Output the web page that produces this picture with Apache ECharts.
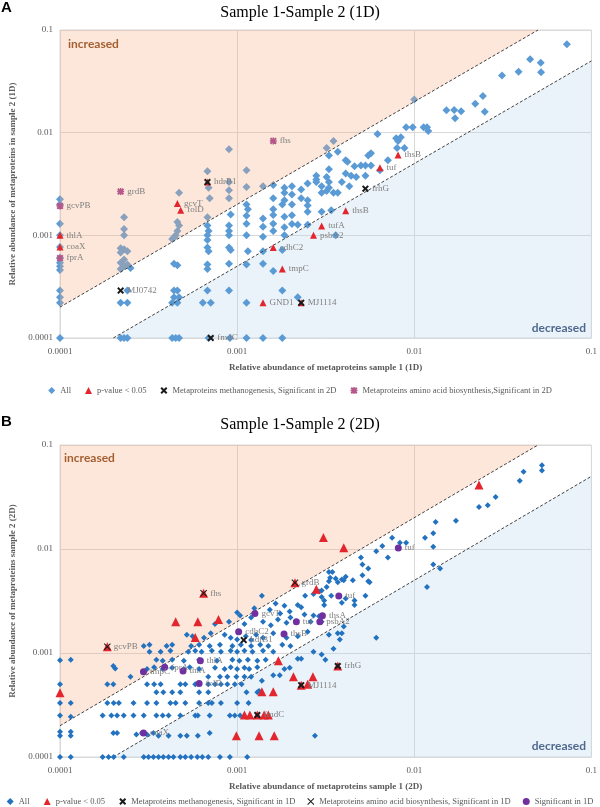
<!DOCTYPE html>
<html>
<head>
<meta charset="utf-8">
<script src="https://cdn.jsdelivr.net/npm/echarts@6/dist/echarts.min.js"></script>
<style>
  html, body { margin: 0; padding: 0; background: #fff; }
  #main { width: 600px; height: 807px; }
</style>
</head>
<body>
<div id="main"></div>
<script>
// tick labels of both log axes (decades)
const tickLabels = ['0.0001', '0.001', '0.01', '0.1'];
const titles = ['Sample 1-Sample 2 (1D)', 'Sample 1-Sample 2 (2D)'];
const xNames = ['Relative abundance of metaproteins sample 1 (1D)', 'Relative abundance of metaproteins sample 1 (2D)'];
const yNames = ['Relative abundance of metaproteins in sample 2 (1D)', 'Relative abundance of metaproteins sample 2 (2D)'];
// fold-change borders of the white band
const upperRatio = 2;
const lowerRatio = 0.5;

// ---- panel A (1D) ----
const aAll = [
  [1e-4,2.25e-3],[1e-4,2.0e-3],[1e-4,1.3e-3],[1e-4,1.0e-3],[1e-4,7.7e-4],[1e-4,6.0e-4],[1e-4,5.4e-4],[1e-4,5.0e-4],[1e-4,4.6e-4],[1e-4,2.9e-4],[1e-4,2.5e-4],[1e-4,2.2e-4],[1e-4,1e-4],
  [2.3e-4,1.5e-3],[2.3e-4,1.15e-3],[2.3e-4,1.0e-3],[2.2e-4,7.5e-4],[2.3e-4,7.3e-4],[2.4e-4,7.0e-4],[2.2e-4,6.8e-4],[2.3e-4,5.8e-4],[2.2e-4,5.4e-4],[2.4e-4,5.2e-4],[2.3e-4,5.0e-4],[2.2e-4,4.7e-4],[2.5e-4,4.8e-4],[2.4e-4,2.9e-4],[2.2e-4,2.2e-4],[2.4e-4,2.2e-4],[2.2e-4,1e-4],[2.3e-4,1e-4],[2.4e-4,1e-4],
  [4.7e-4,2.6e-3],[4.6e-4,1.35e-3],[4.7e-4,1.25e-3],[4.6e-4,1.1e-3],[4.5e-4,1.0e-3],[4.4e-4,9.5e-4],[4.3e-4,9.2e-4],[4.4e-4,5.3e-4],[4.6e-4,5.1e-4],[4.4e-4,2.9e-4],[4.6e-4,2.9e-4],[4.4e-4,2.5e-4],[4.7e-4,2.5e-4],[4.3e-4,2.2e-4],[4.6e-4,2.2e-4],[4.3e-4,1e-4],[4.5e-4,1e-4],[4.7e-4,1e-4],
  [6.8e-4,4.2e-3],[6.9e-4,2.9e-3],[7.0e-4,2.3e-3],[6.8e-4,1.5e-3],[6.8e-4,1.25e-3],[6.9e-4,1.1e-3],[6.8e-4,1.0e-3],[6.8e-4,9.0e-4],[6.8e-4,7.6e-4],[6.9e-4,7.0e-4],[6.8e-4,5.2e-4],[6.8e-4,4.7e-4],[6.8e-4,2.9e-4],[6.4e-4,2.2e-4],[7.1e-4,2.2e-4],[6.9e-4,1e-4],
  [9.0e-4,6.9e-3],[9.0e-4,3.3e-3],[9.0e-4,2.75e-3],[9.0e-4,2.3e-3],[9.2e-4,1.6e-3],[9.0e-4,1.25e-3],[9.0e-4,1.1e-3],[9.0e-4,1.0e-3],[9.0e-4,7.6e-4],[9.2e-4,7.2e-4],[9.0e-4,5.3e-4],[9.0e-4,2.9e-4],[9.1e-4,1e-4],
  [1.13e-3,4.3e-3],[1.13e-3,2.95e-3],[1.13e-3,2.0e-3],[1.15e-3,1.8e-3],[1.13e-3,1.55e-3],[1.13e-3,1.3e-3],[1.13e-3,1.0e-3],[1.15e-3,7.0e-4],[1.13e-3,5.2e-4],[1.13e-3,2.2e-4],[1.13e-3,1e-4],
  [1.4e-3,3.0e-3],[1.4e-3,1.46e-3],[1.4e-3,1.21e-3],[1.4e-3,9.7e-4],[1.4e-3,7.0e-4],[1.4e-3,5.3e-4],[1.4e-3,1e-4],
  [1.6e-3,3.1e-3],[1.6e-3,2.3e-3],[1.6e-3,1.8e-3],[1.6e-3,1.58e-3],[1.6e-3,1.3e-3],[1.6e-3,1.1e-3],[1.6e-3,4.5e-4],
  [1.85e-3,2.9e-3],[1.85e-3,2.6e-3],[1.85e-3,2.2e-3],[1.8e-3,2.0e-3],[1.85e-3,1.52e-3],[1.85e-3,1.2e-3],[1.85e-3,1.0e-3],[1.8e-3,7.2e-4],[1.8e-3,2.9e-4],[1.8e-3,1e-4],
  [2.04e-3,3.0e-3],[2.04e-3,2.5e-3],[2.04e-3,2.0e-3],[2.04e-3,1.57e-3],[2.04e-3,1.29e-3],
  [2.3e-3,2.8e-3],[2.3e-3,2.3e-3],[2.2e-3,1.27e-3],[2.2e-3,2.5e-4],
  [2.5e-3,3.2e-3],[2.5e-3,2.2e-3],[2.5e-3,1.95e-3],[2.5e-3,1.7e-3],[2.5e-3,1.27e-3],
  [2.8e-3,3.8e-3],[2.8e-3,3.5e-3],[2.8e-3,3.3e-3],[3.0e-3,3.0e-3],[3.0e-3,2.6e-3],[3.0e-3,1.7e-3],
  [3.2e-3,3.7e-3],[3.3e-3,3.3e-3],[3.3e-3,2.9e-3],[3.2e-3,2.7e-3],[3.3e-3,4.4e-3],[3.5e-3,2.6e-3],[3.4e-3,1.76e-3],[3.6e-3,1.0e-3],
  [3.7e-3,2.6e-3],[3.9e-3,3.3e-3],[4.1e-3,4.0e-3],[4.1e-3,5.4e-3],[4.2e-3,5.2e-3],[4.3e-3,3.0e-3],[4.4e-3,3.8e-3],[4.6e-3,4.7e-3],[4.7e-3,3.7e-3],
  [5.0e-3,4.8e-3],[5.3e-3,4.8e-3],[5.3e-3,3.8e-3],[5.7e-3,4.8e-3],[5.5e-3,6.0e-3],[5.7e-3,6.3e-3],[6.2e-3,9.7e-3],[6.4e-3,4.3e-3],[7.1e-3,5.4e-3],
  [7.9e-3,8.8e-3],[8.1e-3,8.3e-3],[8.4e-3,9.0e-3],[8.0e-3,7.1e-3],[8.8e-3,7.1e-3],
  [9.0e-3,0.0113],[9.8e-3,0.0113],[0.0113,0.0113],[0.0118,0.0113],[0.012,0.0104],
  [0.0152,0.0165],[0.0168,0.0166],[0.0184,0.0162],[0.017,0.0138],[0.0221,0.0191],[0.0244,0.0227],[0.025,0.016],
  [0.0313,0.036],[0.0388,0.0393],[0.0451,0.0518],[0.0518,0.048],[0.052,0.0387],[0.0727,0.0725],
  [0.01,0.021],[3.5e-3,8.3e-3],[3.2e-3,7.1e-3],[3.7e-3,6.5e-3],[3.3e-3,6.0e-3]
];
const aPval = [
  [4.6e-4,2.04e-3,'gcvT'],[4.8e-4,1.76e-3,'folD'],[1e-4,1.0e-3,'thlA'],[1e-4,7.7e-4,'coaX'],
  [6.8e-4,3.3e-3,''],[1.6e-3,7.6e-4,'cdhC2'],[1.8e-3,4.7e-4,'tmpC'],[1.4e-3,2.2e-4,'GND1'],
  [2.3e-3,2.2e-4,''],[3.0e-3,1.23e-3,'tufA'],[2.7e-3,1.0e-3,'psbA2'],[4.1e-3,1.74e-3,'thsB'],
  [6.4e-3,4.55e-3,'tuf'],[8.1e-3,6.05e-3,'thsB']
];
const aMethano = [
  [6.8e-4,3.3e-3,'hdrB1'],[2.2e-4,2.9e-4,'MJ0742'],[7.1e-4,1e-4,'fmdC'],[5.3e-3,2.85e-3,'frhG'],[2.3e-3,2.2e-4,'MJ1114']
];
const aAmino = [
  [2.2e-4,2.67e-3,'grdB'],[1e-4,1.93e-3,'gcvPB'],[1.6e-3,8.3e-3,'fhs'],[1e-4,6.0e-4,'fprA']
];

// ---- panel B (2D) ----
const bAll = [
  [1e-4,1e-4],[1.15e-4,1e-4],[1.74e-4,1e-4],[1.88e-4,1e-4],[2.01e-4,1e-4],[2.29e-4,1e-4],[2.97e-4,1e-4],[3.16e-4,1e-4],[3.37e-4,1e-4],[3.6e-4,1e-4],[3.83e-4,1e-4],[4.1e-4,1e-4],[4.37e-4,1e-4],[4.78e-4,1e-4],[5.1e-4,1e-4],[5.5e-4,1e-4],[5.96e-4,1e-4],[6.36e-4,1e-4],[6.87e-4,1e-4],[8.0e-4,1e-4],[9.1e-4,1e-4],[1.14e-3,1e-4],
  [1e-4,1.6e-4],[1e-4,1.75e-4],[1.15e-4,1.6e-4],[1.15e-4,1.75e-4],[2.0e-4,1.7e-4],[2.1e-4,1.7e-4],[2.7e-4,1.65e-4],[2.9e-4,1.7e-4],[3.1e-4,1.65e-4],[3.37e-4,1.7e-4],[3.6e-4,1.6e-4],[4.1e-4,1.6e-4],[4.78e-4,1.6e-4],[5.2e-4,1.6e-4],[6.0e-4,1.6e-4],[7.0e-4,1.7e-4],[2.75e-3,1.6e-4],
  [1e-4,2.5e-4],[1.15e-4,2.44e-4],[1.74e-4,2.5e-4],[1.95e-4,2.5e-4],[2.1e-4,2.5e-4],[2.29e-4,2.5e-4],[2.6e-4,2.5e-4],[2.97e-4,2.5e-4],[3.5e-4,2.5e-4],[3.8e-4,2.5e-4],[4.1e-4,2.5e-4],[4.78e-4,2.5e-4],[5.8e-4,2.5e-4],[6.0e-4,2.5e-4],[7.0e-4,2.5e-4],[9.1e-4,2.5e-4],[9.7e-4,2.5e-4],[1.04e-3,2.5e-4],
  [1e-4,3.3e-4],[1.15e-4,3.3e-4],[1.85e-4,3.3e-4],[2.01e-4,3.3e-4],[2.15e-4,3.3e-4],[2.6e-4,3.3e-4],[3.1e-4,3.3e-4],[3.5e-4,3.3e-4],[4.2e-4,3.3e-4],[4.5e-4,3.3e-4],[5.1e-4,3.3e-4],[6.1e-4,3.3e-4],[6.87e-4,3.3e-4],[7.2e-4,3.3e-4],[8.1e-4,3.3e-4],[1.0e-3,3.3e-4],[1.16e-3,3.3e-4],
  [3.5e-4,4.2e-4],[3.83e-4,4.2e-4],[4.3e-4,4.2e-4],[4.78e-4,4.2e-4],[6.1e-4,4.2e-4],[6.87e-4,4.2e-4],[1.13e-3,4.2e-4],[1.3e-3,4.2e-4],[1.33e-3,4.3e-4],
  [1e-4,5e-4],[1.85e-4,5e-4],[2.0e-4,5e-4],[3.1e-4,5e-4],[3.4e-4,5e-4],[3.7e-4,5e-4],[4.78e-4,5e-4],[5.1e-4,5e-4],[5.8e-4,5e-4],[6.87e-4,5e-4],[7.5e-4,5e-4],[8.1e-4,5e-4],[8.8e-4,5e-4],[9.7e-4,5e-4],[1.06e-3,5e-4],[1.38e-3,5.4e-4],
  [2.5e-4,5.9e-4],[6.87e-4,5.9e-4],[8.0e-4,5.9e-4],[8.8e-4,5.9e-4],[9.9e-4,5.9e-4],[1.1e-3,5.9e-4],[1.2e-3,5.9e-4],[1.6e-3,6.1e-4],[1.74e-3,6.1e-4],
  [2.0e-4,7.5e-4],[2.05e-4,7.1e-4],[3.1e-4,7.0e-4],[3.4e-4,7.3e-4],[3.8e-4,7.0e-4],[4.3e-4,7.2e-4],[5.0e-4,7.0e-4],[5.4e-4,7.3e-4],[6.1e-4,7.0e-4],[7.5e-4,7.2e-4],[8.5e-4,7.0e-4],[9.2e-4,7.3e-4],[1.0e-3,7.0e-4],[1.1e-3,7.2e-4],[1.17e-3,7.0e-4],[1.3e-3,7.3e-4],[1.85e-3,7.0e-4],[1.98e-3,7.2e-4],
  [1e-4,8.5e-4],[1.15e-4,8.6e-4],[3.5e-4,8.6e-4],[3.8e-4,8.4e-4],[4.3e-4,8.6e-4],[5.0e-4,8.4e-4],[6.1e-4,8.6e-4],[7.7e-4,8.4e-4],[9.4e-4,8.6e-4],[1.03e-3,8.4e-4],[1.15e-3,8.6e-4],[1.3e-3,8.4e-4],[1.45e-3,8.6e-4],[2.2e-3,8.8e-4],[2.3e-3,8.8e-4],[3.15e-3,8.6e-4],
  [3.2e-4,1.03e-3],[3.7e-4,1.03e-3],[4.2e-4,1.05e-3],[5.3e-4,1.03e-3],[5.8e-4,1.05e-3],[6.3e-4,1.03e-3],[7.2e-4,1.05e-3],[8.1e-4,1.03e-3],[9.2e-4,1.05e-3],[1.0e-3,1.03e-3],[1.1e-3,1.05e-3],[1.22e-3,1.03e-3],[1.4e-3,1.05e-3],[1.6e-3,1.03e-3],[2.7e-3,1.03e-3],[3.0e-3,9.7e-4],[3.5e-3,1.1e-3],
  [2.97e-4,1.17e-3],[3.2e-4,1.2e-3],[4.0e-4,1.17e-3],[4.3e-4,1.2e-3],[5.5e-4,1.17e-3],[6.1e-4,1.2e-3],[7.0e-4,1.17e-3],[8.0e-4,1.2e-3],[9.4e-4,1.17e-3],[1.05e-3,1.2e-3],[1.2e-3,1.17e-3],[1.35e-3,1.2e-3],[1.5e-3,1.17e-3],[1.8e-3,1.2e-3],[2.0e-3,1.17e-3],
  [5.2e-4,1.5e-3],[5.6e-4,1.45e-3],[6.5e-4,1.4e-3],[7.1e-4,1.55e-3],[8.5e-4,1.5e-3],[9.2e-4,1.4e-3],[1.0e-3,1.35e-3],[1.12e-3,1.45e-3],[1.2e-3,1.33e-3],[1.28e-3,1.5e-3],[1.4e-3,1.4e-3],[1.6e-3,1.55e-3],[1.9e-3,1.4e-3],[2.2e-3,1.45e-3],[2.5e-3,1.6e-3],[3.3e-3,1.5e-3],[3.7e-3,1.55e-3],[3.9e-3,1.55e-3],[4.0e-3,1.8e-3],[3.8e-3,1.35e-3],[6.1e-3,1.4e-3],
  [7.5e-4,1.9e-3],[9.0e-4,2.0e-3],[1.1e-3,1.9e-3],[1.2e-3,2.2e-3],[1.4e-3,2.0e-3],[1.55e-3,1.85e-3],[1.7e-3,2.1e-3],[1.9e-3,1.95e-3],[2.0e-3,2.2e-3],[2.4e-3,2.35e-3],[2.6e-3,2.0e-3],[2.7e-3,2.3e-3],[2.9e-3,2.25e-3],[3.0e-3,2.0e-3],[1.04e-3,2.3e-3],
  [1.0e-3,2.45e-3],[1.25e-3,2.7e-3],[1.53e-3,2.6e-3],[1.65e-3,3.0e-3],[1.75e-3,2.4e-3],[1.85e-3,2.85e-3],[1.98e-3,2.5e-3],[2.2e-3,2.9e-3],[2.3e-3,2.75e-3],[3.1e-3,2.9e-3],[3.9e-3,3.05e-3],[4.6e-3,2.9e-3],
  [1.38e-3,3.55e-3],[2.42e-3,3.55e-3],[2.7e-3,3.7e-3],[3.0e-3,3.45e-3],[3.1e-3,3.2e-3],[3.4e-3,3.55e-3],[3.7e-3,4.8e-3],[4.1e-3,3.35e-3],[4.6e-3,3.2e-3],[5.3e-3,3.55e-3],[5.6e-3,4.8e-3],[3.2e-3,4.3e-3],[0.0118,4.3e-3],[3.3e-3,4.9e-3],[3.6e-3,5.2e-3],[4.0e-3,5.0e-3],[4.5e-3,5.0e-3],[2.9e-3,3.9e-3],[3.0e-3,4.0e-3],
  [3.3e-3,6.0e-3],[3.45e-3,6.0e-3],[3.35e-3,5.3e-3],[3.9e-3,5.1e-3],[4.1e-3,5.4e-3],[5.0e-3,8.3e-3],[5.1e-3,7.1e-3],[5.1e-3,5.6e-3],[5.5e-3,6.5e-3],[5.5e-3,4.9e-3],[6.1e-3,9.5e-3],[6.6e-3,0.0107],[7.1e-3,8.3e-3],[7.5e-3,0.0128],[8.3e-3,0.0115],[9.0e-3,0.0115],
  [0.0115,0.0128],[0.0128,0.0142],[0.0128,0.0105],[0.0128,0.0071],[0.014,0.0065],[0.0132,0.0182],[0.0172,0.0187],[0.0232,0.0254],[0.026,0.0264],[0.0288,0.0317],[0.0394,0.0452],[0.0414,0.0554],[0.0526,0.064],[0.0526,0.057]
];
const bPval = [
  [1e-4,4.15e-4],[4.5e-4,2.0e-3],[6.0e-4,2.0e-3],[7.85e-4,2.1e-3],[5.8e-4,1.41e-3],[1.71e-3,8.4e-4],[2.08e-3,5.9e-4],[2.68e-3,5.9e-4],[2.5e-3,5.0e-4],
  [1.38e-3,4.25e-4],[1.6e-3,4.25e-4],[1.1e-3,2.53e-4],[1.18e-3,2.53e-4],[1.42e-3,2.53e-4],[1.5e-3,2.53e-4],[9.9e-4,1.6e-4],[1.33e-3,1.6e-4],[1.62e-3,1.6e-4],
  [3.07e-3,0.0129],[4.0e-3,0.0103],[0.0232,0.0412],[2.8e-3,4.1e-3],
  [6.47e-4,3.75e-3],[1.85e-4,1.15e-3],[2.12e-3,4.74e-3],[3.7e-3,7.5e-4],[2.3e-3,4.9e-4],[1.3e-3,2.53e-4]
];
const bMethano = [
  [1.09e-3,1.33e-3,'hdrB1'],[3.7e-3,7.5e-4,'frhG'],[2.3e-3,4.9e-4,'MJ1114'],[1.3e-3,2.53e-4,'fmdC']
];
const bAmino = [
  [6.47e-4,3.75e-3,'fhs'],[1.85e-4,1.15e-3,'gcvPB'],[2.12e-3,4.74e-3,'grdB']
];
const bSig = [
  [1.26e-3,2.4e-3,'gcvT'],[1.02e-3,1.6e-3,'cdhC2'],[1.84e-3,1.52e-3,'thsB'],[2.16e-3,2.0e-3,'tuf'],[3.03e-3,2.28e-3,'thsA'],
  [2.93e-3,2.0e-3,'psbA2'],[3.75e-3,3.53e-3,'tuf'],[8.13e-3,0.0102,'tuf'],[2.96e-4,6.6e-4,'tmpC'],[3.9e-4,7.3e-4,'fprA'],
  [4.95e-4,6.7e-4,'thlA'],[6.2e-4,8.4e-4,'thlA'],[6.1e-4,5.1e-4,'folD'],[2.96e-4,1.7e-4,'coaX']
];

const xMin = 1e-4, xMax = 0.1, yMin = 1e-4, yMax = 0.1;
const serif = 'Liberation Serif';
const xPath = 'path://M2,0L5,3L8,0L10,2L7,5L10,8L8,10L5,7L2,10L0,8L3,5L0,2Z';
const thinX = 'path://M1,0L5,4L9,0L10,1L6,5L10,9L9,10L5,6L1,10L0,9L4,5L0,1Z';
const starPath = 'path://M2,0L5,3L8,0L10,2L7,5L10,8L8,10L5,7L2,10L0,8L3,5L0,2Z M4,0L6,0L6,10L4,10Z M0,4L10,4L10,6L0,6Z';

const fmtTick = v => tickLabels[Math.round(Math.log10(v)) + 4];
const pointLabel = {
  show: true, position: 'right', distance: 3,
  formatter: p => p.value[2] || '',
  color: '#7f7f7f', fontFamily: serif, fontSize: 9
};

function region (gi, pts, fill, z) {
  return {
    type: 'custom', xAxisIndex: gi, yAxisIndex: gi, z: z, silent: true,
    data: [[xMin, yMin]],
    renderItem: (params, api) => ({
      type: 'polygon',
      shape: { points: pts.map(p => api.coord(p)) },
      style: { fill: fill }
    })
  };
}
function border (gi, pts) {
  return {
    type: 'line', xAxisIndex: gi, yAxisIndex: gi, z: 4, silent: true,
    data: pts, symbol: 'none',
    lineStyle: { color: '#404040', width: 1, type: [3, 2] }
  };
}
function scatter (gi, name, data, symbol, size, color, z, label) {
  return {
    type: 'scatter', name: name, xAxisIndex: gi, yAxisIndex: gi, z: z,
    data: data, symbol: symbol, symbolSize: size,
    itemStyle: { color: color, opacity: 1 },
    label: label ? pointLabel : { show: false }
  };
}

const upperPts = [[xMin, yMax], [xMin, xMin * upperRatio], [yMax / upperRatio, yMax]];
const lowerPts = [[yMin / lowerRatio, yMin], [xMax, xMax * lowerRatio], [xMax, yMin]];
const upperLine = [[xMin, xMin * upperRatio], [yMax / upperRatio, yMax]];
const lowerLine = [[yMin / lowerRatio, yMin], [xMax, xMax * lowerRatio]];

const peach = 'rgba(244,177,131,0.3)';
const sky = 'rgba(189,215,238,0.3)';

const legendA = ['All', 'p-value < 0.05', 'Metaproteins methanogenesis, Significant in 2D', 'Metaproteins amino acid biosynthesis,Significant in 2D'];
const legendB = ['All ', 'p-value < 0.05 ', 'Metaproteins methanogenesis, Significant in 1D', 'Metaproteins amino acid biosynthesis, Significant in 1D', 'Significant in 1D'];

const grids = [
  { left: 60, top: 30, width: 533, height: 308 },
  { left: 60, top: 445, width: 533, height: 312 }
];

const chart = echarts.init(document.getElementById('main'));
chart.setOption({
  animation: false,
  backgroundColor: '#fff',
  title: [
    { text: titles[0], left: 'center', top: 0, textStyle: { fontFamily: serif, fontSize: 16, fontWeight: 'normal', color: '#000' } },
    { text: titles[1], left: 'center', top: 412, textStyle: { fontFamily: serif, fontSize: 16, fontWeight: 'normal', color: '#000' } }
  ],
  grid: grids.map(g => Object.assign({ show: true, borderColor: '#d9d9d9', borderWidth: 1, backgroundColor: '#fff' }, g)),
  xAxis: [0, 1].map(i => ({
    type: 'log', logBase: 10, gridIndex: i, min: xMin, max: xMax,
    name: xNames[i], nameLocation: 'middle', nameGap: 25,
    nameTextStyle: { fontFamily: serif, fontSize: 9, fontWeight: 'bold', color: '#595959' },
    axisLine: { show: false }, axisTick: { show: false },
    axisLabel: { formatter: fmtTick, fontFamily: serif, fontSize: 9, color: '#595959', margin: 9 },
    splitLine: { show: true, lineStyle: { color: '#d9d9d9', width: 1 } }
  })),
  yAxis: [0, 1].map(i => ({
    type: 'log', logBase: 10, gridIndex: i, min: yMin, max: yMax,
    name: yNames[i], nameLocation: 'middle', nameGap: 41,
    nameTextStyle: { fontFamily: serif, fontSize: 9, fontWeight: 'bold', color: '#595959' },
    axisLine: { show: false }, axisTick: { show: false },
    axisLabel: { formatter: fmtTick, fontFamily: serif, fontSize: 9, color: '#595959', margin: 7 },
    splitLine: { show: true, lineStyle: { color: '#d9d9d9', width: 1 } }
  })),
  legend: [
    { data: legendA, top: 381, left: 'center', itemWidth: 7, itemHeight: 7, itemGap: 14,
      textStyle: { fontFamily: serif, fontSize: 8.5, color: '#595959' } },
    { data: legendB, top: 792, left: 'center', itemWidth: 7, itemHeight: 7, itemGap: 12,
      textStyle: { fontFamily: serif, fontSize: 8.5, color: '#595959' } }
  ],
  graphic: [
    { type: 'text', x: 1, y: 0, style: { text: 'A', font: 'bold 15px "Liberation Sans"', fill: '#000' } },
    { type: 'text', x: 1, y: 414, style: { text: 'B', font: 'bold 15px "Liberation Sans"', fill: '#000' } },
    { type: 'text', x: 68, y: 44, style: { text: 'increased', font: 'bold 12px Lato', fill: '#843c0c', verticalAlign: 'middle' } },
    { type: 'text', x: 586, y: 328, style: { text: 'decreased', font: 'bold 12px Lato', fill: '#1f3864', align: 'right', verticalAlign: 'middle' } },
    { type: 'text', x: 64, y: 458, style: { text: 'increased', font: 'bold 12px Lato', fill: '#843c0c', verticalAlign: 'middle' } },
    { type: 'text', x: 586, y: 746, style: { text: 'decreased', font: 'bold 12px Lato', fill: '#1f3864', align: 'right', verticalAlign: 'middle' } }
  ],
  series: [
    // panel A: peach shading lies over the plain points, which turn grey-blue
    region(0, lowerPts, sky, 1),
    scatter(0, 'All', aAll, 'diamond', 8, '#5b9bd5', 2, false),
    region(0, upperPts, peach, 3),
    border(0, upperLine),
    border(0, lowerLine),
    scatter(0, 'p-value < 0.05', aPval, 'triangle', 7, '#e3262e', 5, true),
    scatter(0, 'Metaproteins methanogenesis, Significant in 2D', aMethano, xPath, 7, '#1a1a1a', 6, true),
    scatter(0, 'Metaproteins amino acid biosynthesis,Significant in 2D', aAmino, starPath, 7, '#b4578a', 6, true),
    // panel B
    region(1, lowerPts, sky, 1),
    region(1, upperPts, peach, 1),
    border(1, upperLine),
    border(1, lowerLine),
    scatter(1, 'All ', bAll, 'diamond', 6, '#2372c0', 5, false),
    scatter(1, 'p-value < 0.05 ', bPval, 'triangle', 9, '#e3262e', 6, false),
    scatter(1, 'Metaproteins methanogenesis, Significant in 1D', bMethano, xPath, 7, '#1a1a1a', 7, true),
    scatter(1, 'Metaproteins amino acid biosynthesis, Significant in 1D', bAmino, thinX, 7, '#1a1a1a', 7, true),
    scatter(1, 'Significant in 1D', bSig, 'circle', 7, '#7030a0', 7, true)
  ]
});
</script>
</body>
</html>
